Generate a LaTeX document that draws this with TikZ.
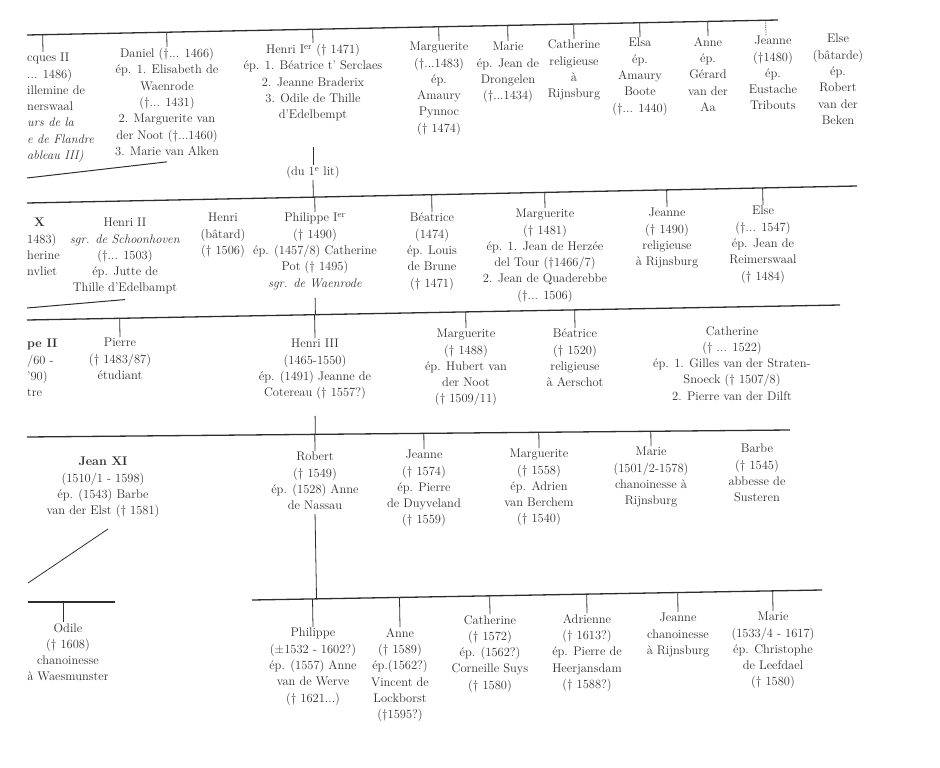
\documentclass[tikz,border=0pt]{standalone}
\usepackage{tikz}
\usetikzlibrary{calc}
\definecolor{ink}{RGB}{45,47,45}

\begin{document}
\begin{tikzpicture}[x=1pt,y=-1pt,
  person/.style={align=center, anchor=north, inner sep=1pt, text=ink,
    font=\fontsize{12.5}{16.3}\selectfont},
  frag/.style={person, align=left, anchor=north west},
  rail/.style={draw=ink, line width=1.3pt},
  tick/.style={draw=ink, line width=0.8pt}]

\useasboundingbox (0,0) rectangle (940,768);

% generation lines
\coordinate (g1w) at (27,35);  \coordinate (g1e) at (778,20);
\coordinate (g2w) at (27,203); \coordinate (g2e) at (857,186);
\coordinate (g3w) at (27,320); \coordinate (g3e) at (840,305);
\coordinate (g4w) at (27,437); \coordinate (g4e) at (790,430);
\coordinate (g5w) at (252,600); \coordinate (g5e) at (822,590);
\coordinate (o5w) at (28,602); \coordinate (o5e) at (115,602);
\foreach \g in {g1,g2,g3,g4,g5,o5}
  \draw[rail] (\g w) -- (\g e);

% first row
\node[frag] (jacques) at (26,52) {cques II\\... 1486)\\illemine de\\nerswaal\\
  \textit{urs de la}\\\textit{e de Flandre}\\\textit{ableau III)}};
\node[person] (daniel) at (167,47) {Daniel (†... 1466)\\ép. 1. Elisabeth de\\Waenrode\\
  (†... 1431)\\2. Marguerite van\\der Noot (†...1460)\\3. Marie van Alken};
\node[person] (henriI) at (313,43) {Henri I\textsuperscript{er} († 1471)\\
  ép. 1. Béatrice t' Serclaes\\2. Jeanne Braderix\\3. Odile de Thille\\d'Edelbempt};
\node[person] (dulit) at (313,165) {(du 1\textsuperscript{e} lit)};
\node[person] (margueriteA) at (439,41) {Marguerite\\(†...1483)\\ép.\\Amaury\\Pynnoc\\(† 1474)};
\node[person] (marieA) at (508,41) {Marie\\ép. Jean de\\Drongelen\\(†...1434)};
\node[person] (catherineA) at (574,39) {Catherine\\religieuse\\à\\Rijnsburg};
\node[person] (elsaA) at (640,37) {Elsa\\ép.\\Amaury\\Boote\\(†... 1440)};
\node[person] (anneA) at (708,36) {Anne\\ép.\\Gérard\\van der\\Aa};
\node[person] (jeanneA) at (773,35) {Jeanne\\(†1480)\\ép.\\Eustache\\Tribouts};
\node[person] (elseA) at (838,33) {Else\\(bâtarde)\\ép.\\Robert\\van der\\Beken};

% second row
\node[frag] (jeanX) at (26,217) {\hspace*{7pt}\textbf{X}\\1483)\\herine\\nvliet};
\node[person] (henriII) at (125,217) {Henri II\\\textit{sgr. de Schoonhoven}\\(†... 1503)\\
  ép. Jutte de\\Thille d'Edelbampt};
\node[person] (henriB) at (223,212) {Henri\\(bâtard)\\(† 1506)};
\node[person] (philippeI) at (315,212) {Philippe I\textsuperscript{er}\\(† 1490)\\
  ép. (1457/8) Catherine\\Pot († 1495)\\\textit{sgr. de Waenrode}};
\node[person] (beatriceB) at (432,212) {Béatrice\\(1474)\\ép. Louis\\de Brune\\(† 1471)};
\node[person] (margueriteB) at (545,208) {Marguerite\\(† 1481)\\ép. 1. Jean de Herzée\\
  del Tour (†1466/7)\\2. Jean de Quaderebbe\\(†... 1506)};
\node[person] (jeanneB) at (667,207) {Jeanne\\(† 1490)\\religieuse\\à Rijnsburg};
\node[person] (elseB) at (763,205) {Else\\(†... 1547)\\ép. Jean de\\Reimerswaal\\(† 1484)};

% third row
\node[frag] (philippeII) at (26,338) {\textbf{pe II}\\/60 -\\'90)\\tre};
\node[person] (pierre) at (120,337) {Pierre\\(† 1483/87)\\étudiant};
\node[person] (henriIII) at (315,338) {Henri III\\(1465-1550)\\ép. (1491) Jeanne de\\
  Cotereau († 1557?)};
\node[person] (margueriteC) at (466,328) {Marguerite\\(† 1488)\\ép. Hubert van\\der Noot\\(† 1509/11)};
\node[person] (beatriceC) at (575,328) {Béatrice\\(† 1520)\\religieuse\\à Aerschot};
\node[person] (catherineC) at (732,325) {Catherine\\(† ... 1522)\\ép. 1. Gilles van der Straten-\\
  Snoeck († 1507/8)\\2. Pierre van der Dilft};

% fourth row
\node[person] (jeanXI) at (103,456) {\textbf{Jean XI}\\(1510/1 - 1598)\\ép. (1543) Barbe\\
  van der Elst († 1581)};
\node[person] (robert) at (315,451) {Robert\\(† 1549)\\ép. (1528) Anne\\de Nassau};
\node[person] (jeanneD) at (424,449) {Jeanne\\(† 1574)\\ép. Pierre\\de Duyveland\\(† 1559)};
\node[person] (margueriteD) at (539,448) {Marguerite\\(† 1558)\\ép. Adrien\\van Berchem\\(† 1540)};
\node[person] (marieD) at (651,446) {Marie\\(1501/2-1578)\\chanoinesse à\\Rijnsburg};
\node[person] (barbeD) at (757,443) {Barbe\\(† 1545)\\abbesse de\\Susteren};

% fifth row
\node[person] (odile) at (68,622) {Odile\\(† 1608)\\chanoinesse\\à Waesmunster};
\node[person] (philippeE) at (313,627) {Philippe\\(±1532 - 1602?)\\ép. (1557) Anne\\
  van de Werve\\(† 1621...)};
\node[person] (anneE) at (400,627) {Anne\\(† 1589)\\ép.(1562?)\\Vincent de\\Lockborst\\(†1595?)};
\node[person] (catherineE) at (490,614) {Catherine\\(† 1572)\\ép. (1562?)\\Corneille Suys\\(† 1580)};
\node[person] (adrienneE) at (587,613) {Adrienne\\(† 1613?)\\ép. Pierre de\\Heerjansdam\\(† 1588?)};
\node[person] (jeanneE) at (678,612) {Jeanne\\chanoinesse\\à Rijnsburg};
\node[person] (marieE) at (773,611) {Marie\\(1533/4 - 1617)\\ép. Christophe\\de Leefdael\\(† 1580)};

% ticks up to the lines
\coordinate (jacquesT) at ([xshift=17pt]jacques.north west);
\coordinate (jeanneAT) at ([xshift=-7pt]jeanneA.north);
\coordinate (odileT) at ([xshift=-5pt]odile.north);
\foreach \p in {jacquesT,daniel,henriI,margueriteA,marieA,catherineA,elsaA,anneA}
  \draw[tick] (\p.north) -- ($(g1w)!(\p.north)!(g1e)$);
\draw[tick, densely dotted] (jeanneAT) -- ($(g1w)!(jeanneAT)!(g1e)$);
\foreach \p in {philippeI,beatriceB,margueriteB,jeanneB,elseB}
  \draw[tick] (\p.north) -- ($(g2w)!(\p.north)!(g2e)$);
\foreach \p in {pierre,henriIII,margueriteC,beatriceC}
  \draw[tick] (\p.north) -- ($(g3w)!(\p.north)!(g3e)$);
\foreach \p in {robert,jeanneD,margueriteD,marieD}
  \draw[tick] (\p.north) -- ($(g4w)!(\p.north)!(g4e)$);
\foreach \p in {philippeE,anneE,catherineE,adrienneE,jeanneE,marieE}
  \draw[tick] (\p.north) -- ($(g5w)!(\p.north)!(g5e)$);
\draw[tick] (odileT) -- ($(o5w)!(odileT)!(o5e)$);

% descents
\coordinate (dulitT) at (313,147);
\draw[tick] (dulitT) -- (dulit.north);
\draw[tick] (dulit.south) -- ($(g2w)!(dulit.south)!(g2e)$);
\draw[tick, shorten <=7pt] (philippeI.south) -- ($(g3w)!(philippeI.south)!(g3e)$);
\draw[tick, shorten <=15pt] (henriIII.south) -- ($(g4w)!(henriIII.south)!(g4e)$);
\draw[tick, shorten <=3pt] (robert.south) -- ($(g5w)!(robert.south)!(g5e)$);

% links running off to the left
\coordinate (danielEnd) at (27,178);
\coordinate (henriIIEnd) at (27,308);
\coordinate (jeanXIEnd) at (28,583);
\draw[tick, line width=1pt] ([shift={(0,5)}]daniel.south) -- (danielEnd);
\draw[tick, line width=1pt] ([shift={(0,4)}]henriII.south) -- (henriIIEnd);
\draw[tick] ([shift={(5,10)}]jeanXI.south) -- (jeanXIEnd);

\end{tikzpicture}
\end{document}
